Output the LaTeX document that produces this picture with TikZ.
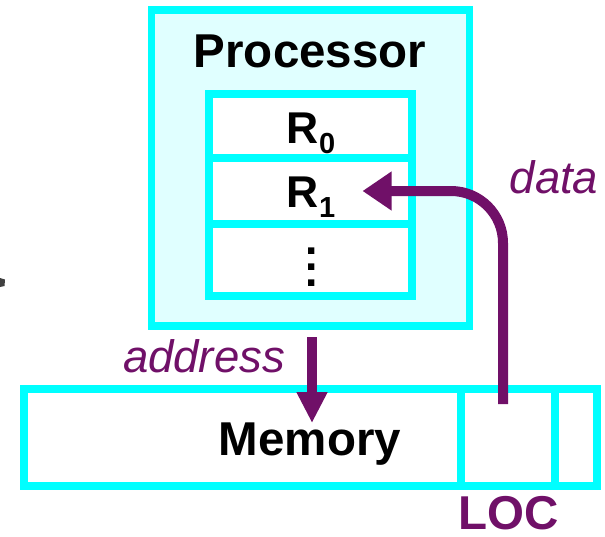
\documentclass[tikz,border=0pt]{standalone}
\usepackage{fontspec}
\setmainfont{Liberation Sans}
\usetikzlibrary{arrows.meta,calc}
\definecolor{cyanline}{RGB}{0,255,255}
\definecolor{cyanfill}{RGB}{224,255,255}
\definecolor{purp}{RGB}{112,16,104}
\begin{document}
\begin{tikzpicture}[x=1pt,y=-1pt,
  boxline/.style={draw=cyanline,line width=7.5pt,outer sep=0pt,inner sep=0pt,rectangle},
  cellbox/.style={boxline,fill=white},
  bigtxt/.style={font=\fontsize{47.5}{47.5}\selectfont\bfseries,inner sep=0pt,anchor=base},
  regtxt/.style={font=\fontsize{44.5}{44.5}\selectfont\bfseries,inner sep=0pt,anchor=base},
  lbltxt/.style={font=\fontsize{45.5}{45.5}\selectfont\itshape,text=purp,inner sep=0pt,anchor=base},
  flow/.style={draw=purp,line width=10pt}]
\useasboundingbox (0,0) rectangle (605,536);
% processor
\node[boxline,fill=cyanfill,minimum width=318pt,minimum height=316pt] (proc) at (310.5,168) {};
\node[bigtxt] (ptxt) at (310,67) {Processor};
% registers
\node[cellbox,minimum width=203pt,minimum height=64pt] (r0) at (310.5,126) {};
\node[cellbox,minimum width=203pt,minimum height=66pt] (r1) at (310.5,191) {};
\node[cellbox,minimum width=203pt,minimum height=72pt] (r2) at (310.5,260) {};
\node[regtxt] (r0t) at (311,143) {R\raisebox{-10pt}{\fontsize{29}{29}\selectfont 0}};
\node[regtxt] (r1t) at (311,207) {R\raisebox{-10pt}{\fontsize{29}{29}\selectfont 1}};
\node[regtxt,anchor=south,align=center,font=\fontsize{44.5}{16}\selectfont\bfseries] (dots) at (311.5,287) {.\\.\\.};
% memory
\node[cellbox,minimum width=573pt,minimum height=97pt] (mem) at (310.5,437.5) {};
\node[cellbox,minimum width=94pt,minimum height=97pt] (loc) at (508,437.5) {};
\node[bigtxt] (mtxt) at (310,455) {Memory};
\node[bigtxt,text=purp] (loctxt) at (508.5,529) {LOC};
% labels
\node[lbltxt] (addr) at (204,372) {address};
\node[lbltxt] (data) at (554,193) {data};
% connectors
\coordinate (astart) at ($(proc.south)+(1.5,11)$);
\coordinate (aend) at ($(mem.north)+(1.5,34)$);
\draw[flow,-{Triangle[length=31pt,width=29pt]}] (astart) -- (aend);
\coordinate (dstart) at ($(loc.north)+(-5,15)$);
\coordinate (dtip) at ($(r1.center)+(52,0)$);
\draw[flow,rounded corners=52pt,-{Triangle[length=29pt,width=37pt]}] (dstart) |- (dtip);
% stray mark at left edge
\fill[black!75] (0,278) -- (5,279.5) -- (4.5,286) -- (0,287) -- cycle;
\end{tikzpicture}
\end{document}
